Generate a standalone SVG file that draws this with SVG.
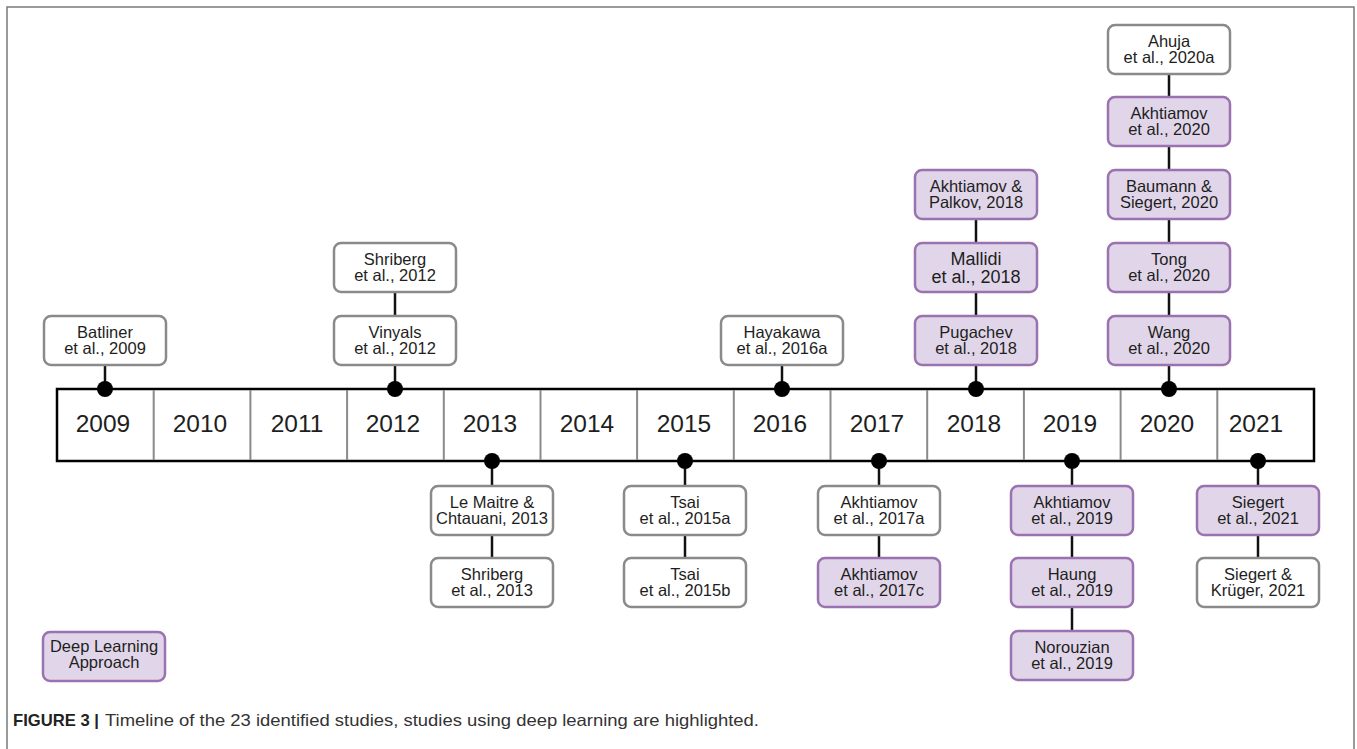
<svg xmlns="http://www.w3.org/2000/svg" width="1357" height="749" viewBox="0 0 1357 749">
<style>
text{font-family:"Liberation Sans",Arial,sans-serif;fill:#1e1e1e}
.lbl{font-size:16.5px;text-anchor:middle}
.yr{font-size:24.5px;text-anchor:middle}
.w rect{fill:#fff;stroke:#8a8a8a;stroke-width:2.5}
.p rect{fill:#e1d6e9;stroke:#9b72b0;stroke-width:2.5}
.con line{stroke:#111;stroke-width:2.5}
.con circle{fill:#000}
.div{stroke:#8a8a8a;stroke-width:2}
</style>
<rect width="1357" height="749" fill="#fff"/>
<path d="M7,749 V7 H1354 V749" fill="none" stroke="#7a7a7a" stroke-width="1.5"/>

<g id="timeline">
<rect x="57" y="389" width="1257" height="72" fill="#fff" stroke="#000" stroke-width="2.5"/>
<g class="div">
<line x1="153.7" y1="390" x2="153.7" y2="460"/>
<line x1="250.4" y1="390" x2="250.4" y2="460"/>
<line x1="347.1" y1="390" x2="347.1" y2="460"/>
<line x1="443.8" y1="390" x2="443.8" y2="460"/>
<line x1="540.5" y1="390" x2="540.5" y2="460"/>
<line x1="637.1" y1="390" x2="637.1" y2="460"/>
<line x1="733.8" y1="390" x2="733.8" y2="460"/>
<line x1="830.5" y1="390" x2="830.5" y2="460"/>
<line x1="927.2" y1="390" x2="927.2" y2="460"/>
<line x1="1023.9" y1="390" x2="1023.9" y2="460"/>
<line x1="1120.6" y1="390" x2="1120.6" y2="460"/>
<line x1="1217.3" y1="390" x2="1217.3" y2="460"/>
</g>
<text class="yr" x="103" y="432">2009</text>
<text class="yr" x="200" y="432">2010</text>
<text class="yr" x="297" y="432">2011</text>
<text class="yr" x="393" y="432">2012</text>
<text class="yr" x="490" y="432">2013</text>
<text class="yr" x="587" y="432">2014</text>
<text class="yr" x="684" y="432">2015</text>
<text class="yr" x="780" y="432">2016</text>
<text class="yr" x="877" y="432">2017</text>
<text class="yr" x="974" y="432">2018</text>
<text class="yr" x="1070" y="432">2019</text>
<text class="yr" x="1167" y="432">2020</text>
<text class="yr" x="1256" y="432">2021</text>
</g>

<g id="connectors" class="con">
<line x1="105" y1="389" x2="105" y2="340"/>
<line x1="395" y1="389" x2="395" y2="268"/>
<line x1="782" y1="389" x2="782" y2="340"/>
<line x1="976" y1="389" x2="976" y2="195"/>
<line x1="1169" y1="389" x2="1169" y2="50"/>
<line x1="492" y1="461" x2="492" y2="582"/>
<line x1="685" y1="461" x2="685" y2="582"/>
<line x1="879" y1="461" x2="879" y2="582"/>
<line x1="1072" y1="461" x2="1072" y2="655"/>
<line x1="1258" y1="461" x2="1258" y2="582"/>
<circle cx="105" cy="389" r="8"/>
<circle cx="395" cy="389" r="8"/>
<circle cx="782" cy="389" r="8"/>
<circle cx="976" cy="389" r="8"/>
<circle cx="1169" cy="389" r="8"/>
<circle cx="492" cy="461" r="8"/>
<circle cx="685" cy="461" r="8"/>
<circle cx="879" cy="461" r="8"/>
<circle cx="1072" cy="461" r="8"/>
<circle cx="1258" cy="461" r="8"/>
</g>

<g id="batliner2009" class="w"><rect x="44" y="316" width="122" height="49" rx="7"/><text class="lbl" x="105" y="338">Batliner</text><text class="lbl" x="105" y="354">et al., 2009</text></g>
<g id="vinyals2012" class="w"><rect x="334" y="316" width="122" height="49" rx="7"/><text class="lbl" x="395" y="338">Vinyals</text><text class="lbl" x="395" y="354">et al., 2012</text></g>
<g id="shriberg2012" class="w"><rect x="334" y="243" width="122" height="49" rx="7"/><text class="lbl" x="395" y="265">Shriberg</text><text class="lbl" x="395" y="281">et al., 2012</text></g>
<g id="hayakawa2016a" class="w"><rect x="721" y="316" width="122" height="49" rx="7"/><text class="lbl" x="782" y="338">Hayakawa</text><text class="lbl" x="782" y="354">et al., 2016a</text></g>
<g id="pugachev2018" class="p"><rect x="915" y="316" width="122" height="49" rx="7"/><text class="lbl" x="976" y="338">Pugachev</text><text class="lbl" x="976" y="354">et al., 2018</text></g>
<g id="mallidi2018" class="p"><rect x="915" y="243" width="122" height="49" rx="7"/><text class="lbl" x="976" y="265" style="font-size:18px">Mallidi</text><text class="lbl" x="976" y="283" style="font-size:18px">et al., 2018</text></g>
<g id="akhtiamovpalkov2018" class="p"><rect x="915" y="170" width="122" height="49" rx="7"/><text class="lbl" x="976" y="192">Akhtiamov &amp;</text><text class="lbl" x="976" y="208">Palkov, 2018</text></g>
<g id="wang2020" class="p"><rect x="1108" y="316" width="122" height="49" rx="7"/><text class="lbl" x="1169" y="338">Wang</text><text class="lbl" x="1169" y="354">et al., 2020</text></g>
<g id="tong2020" class="p"><rect x="1108" y="243" width="122" height="49" rx="7"/><text class="lbl" x="1169" y="265">Tong</text><text class="lbl" x="1169" y="281">et al., 2020</text></g>
<g id="baumann2020" class="p"><rect x="1108" y="170" width="122" height="49" rx="7"/><text class="lbl" x="1169" y="192">Baumann &amp;</text><text class="lbl" x="1169" y="208">Siegert, 2020</text></g>
<g id="akhtiamov2020" class="p"><rect x="1108" y="97" width="122" height="49" rx="7"/><text class="lbl" x="1169" y="119">Akhtiamov</text><text class="lbl" x="1169" y="135">et al., 2020</text></g>
<g id="ahuja2020a" class="w"><rect x="1108" y="25" width="122" height="49" rx="7"/><text class="lbl" x="1169" y="47">Ahuja</text><text class="lbl" x="1169" y="63">et al., 2020a</text></g>

<g id="lemaitre2013" class="w"><rect x="431" y="486" width="122" height="49" rx="7"/><text class="lbl" x="492" y="508">Le Maitre &amp;</text><text class="lbl" x="492" y="524">Chtauani, 2013</text></g>
<g id="shriberg2013" class="w"><rect x="431" y="558" width="122" height="49" rx="7"/><text class="lbl" x="492" y="580">Shriberg</text><text class="lbl" x="492" y="596">et al., 2013</text></g>
<g id="tsai2015a" class="w"><rect x="624" y="486" width="122" height="49" rx="7"/><text class="lbl" x="685" y="508">Tsai</text><text class="lbl" x="685" y="524">et al., 2015a</text></g>
<g id="tsai2015b" class="w"><rect x="624" y="558" width="122" height="49" rx="7"/><text class="lbl" x="685" y="580">Tsai</text><text class="lbl" x="685" y="596">et al., 2015b</text></g>
<g id="akhtiamov2017a" class="w"><rect x="818" y="486" width="122" height="49" rx="7"/><text class="lbl" x="879" y="508">Akhtiamov</text><text class="lbl" x="879" y="524">et al., 2017a</text></g>
<g id="akhtiamov2017c" class="p"><rect x="818" y="558" width="122" height="49" rx="7"/><text class="lbl" x="879" y="580">Akhtiamov</text><text class="lbl" x="879" y="596">et al., 2017c</text></g>
<g id="akhtiamov2019" class="p"><rect x="1011" y="486" width="122" height="49" rx="7"/><text class="lbl" x="1072" y="508">Akhtiamov</text><text class="lbl" x="1072" y="524">et al., 2019</text></g>
<g id="haung2019" class="p"><rect x="1011" y="558" width="122" height="49" rx="7"/><text class="lbl" x="1072" y="580">Haung</text><text class="lbl" x="1072" y="596">et al., 2019</text></g>
<g id="norouzian2019" class="p"><rect x="1011" y="631" width="122" height="49" rx="7"/><text class="lbl" x="1072" y="653">Norouzian</text><text class="lbl" x="1072" y="669">et al., 2019</text></g>
<g id="siegert2021" class="p"><rect x="1197" y="486" width="122" height="49" rx="7"/><text class="lbl" x="1258" y="508">Siegert</text><text class="lbl" x="1258" y="524">et al., 2021</text></g>
<g id="siegertkruger2021" class="w"><rect x="1197" y="558" width="122" height="49" rx="7"/><text class="lbl" x="1258" y="580">Siegert &amp;</text><text class="lbl" x="1258" y="596">Krüger, 2021</text></g>

<g id="legend" class="p"><rect x="43" y="632" width="122" height="49" rx="7"/><text class="lbl" x="104" y="652">Deep Learning</text><text class="lbl" x="104" y="668">Approach</text></g>

<g id="caption">
<text x="13" y="726" font-size="16.5" font-weight="bold" textLength="86" lengthAdjust="spacingAndGlyphs" style="fill:#222">FIGURE 3 |</text>
<text x="105" y="726" font-size="16.5" textLength="654" lengthAdjust="spacingAndGlyphs" style="fill:#333">Timeline of the 23 identified studies, studies using deep learning are highlighted.</text>
</g>
</svg>
